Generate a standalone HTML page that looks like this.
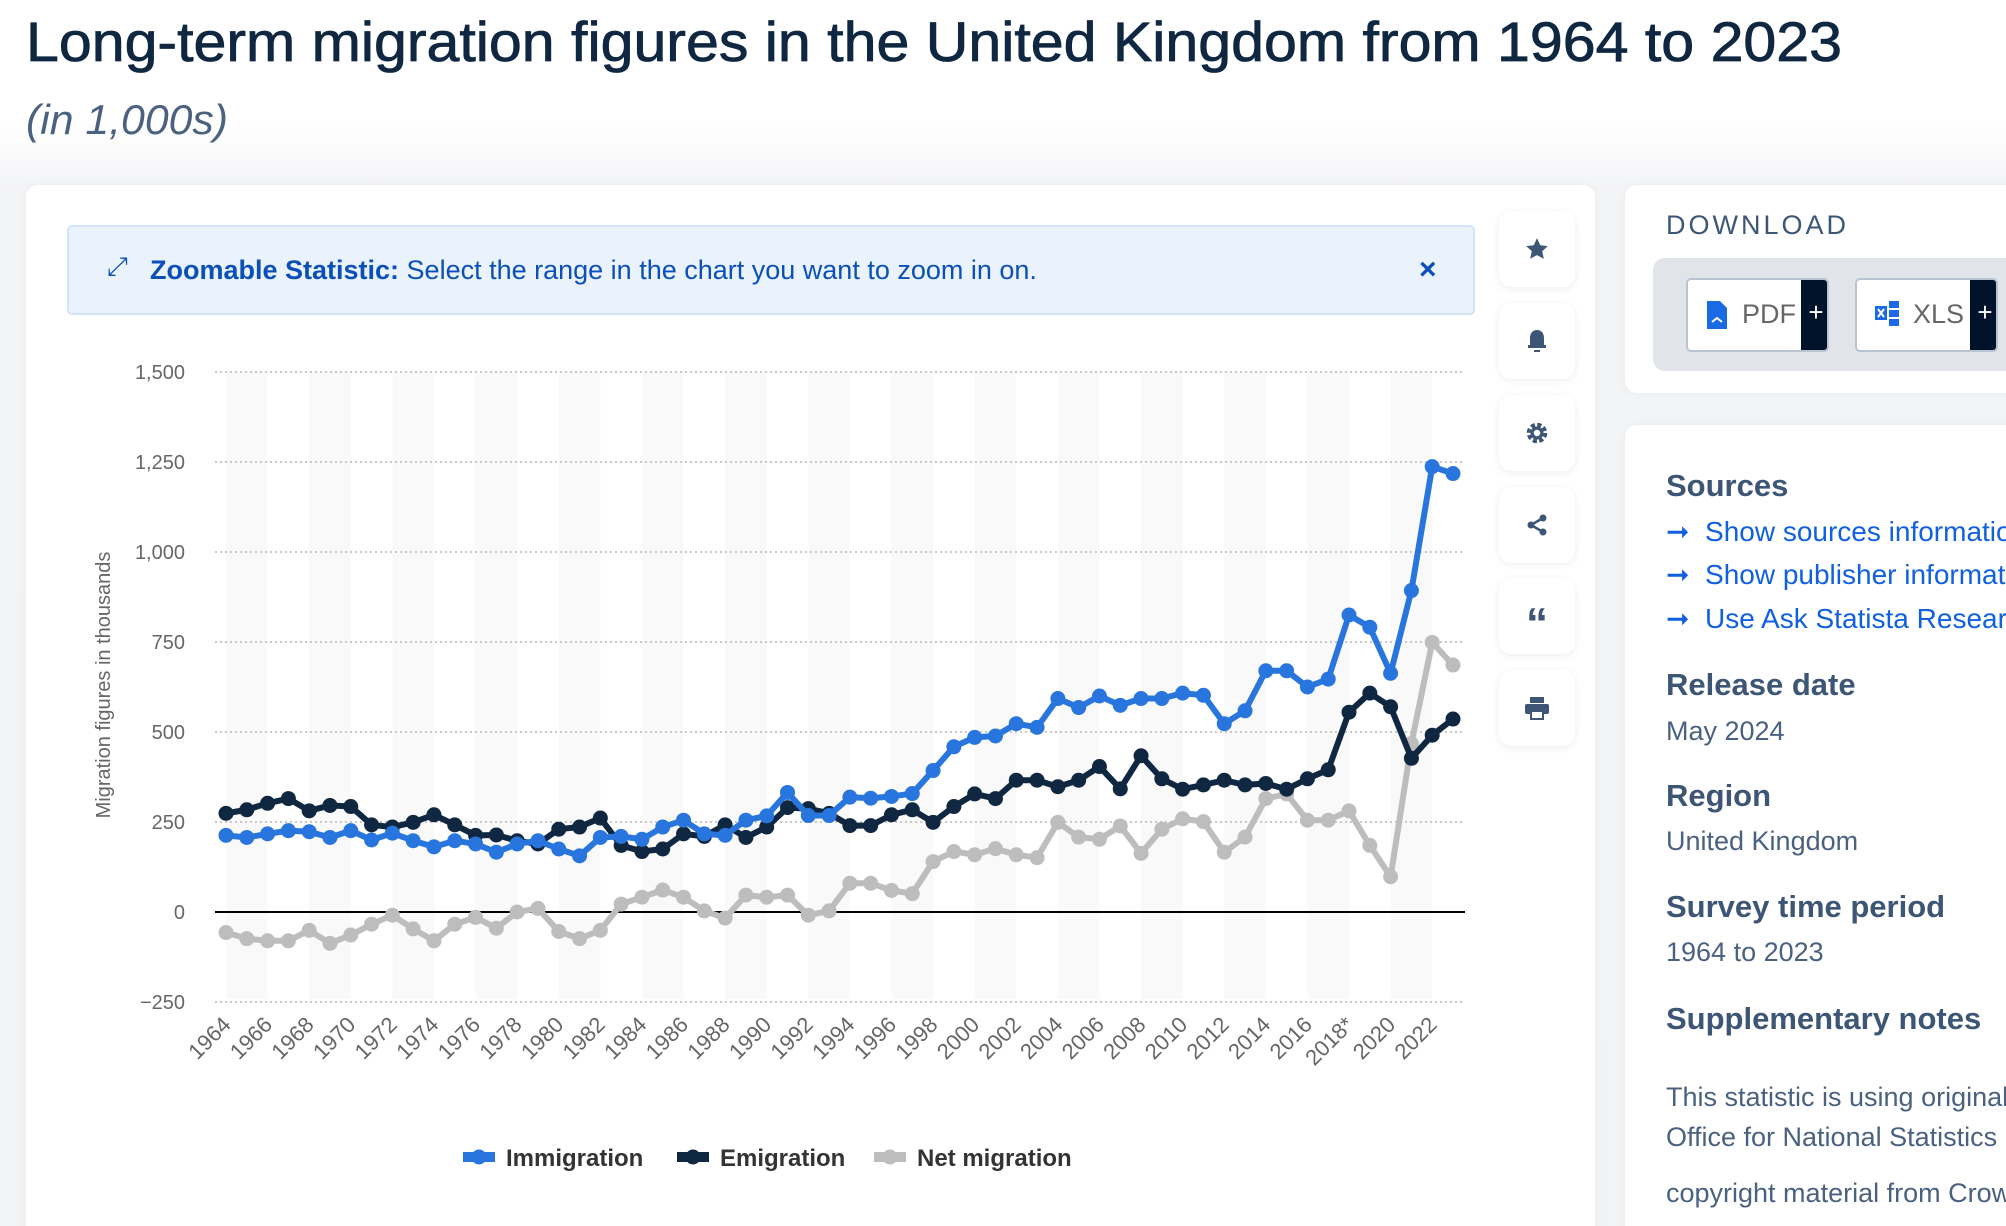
<!DOCTYPE html>
<html><head><meta charset="utf-8">
<style>
html,body{margin:0;padding:0;}
body{width:2006px;height:1226px;overflow:hidden;position:relative;font-family:"Liberation Sans",sans-serif;}
#wrap{position:absolute;left:0;top:0;width:2006px;height:1226px;overflow:hidden;background:linear-gradient(#ffffff 0,#ffffff 120px,#f3f4f6 190px,#f1f3f5 100%);}
.abs{position:absolute;}
.card{background:#fff;border-radius:12px;box-shadow:0 0 10px rgba(0,0,0,0.04);}
.ibox{position:absolute;left:1499px;width:76px;height:76px;background:#fff;border-radius:12px;box-shadow:0 2px 8px rgba(0,0,0,0.07);display:flex;align-items:center;justify-content:center;}
.h{position:absolute;left:1666px;font-weight:bold;font-size:31px;color:#3d5676;white-space:nowrap;}
.v{position:absolute;left:1666px;font-size:27px;color:#4a6180;white-space:nowrap;}
.lnk{position:absolute;left:1666px;font-size:28px;color:#1060e0;white-space:nowrap;}
</style></head>
<body>
<div id="wrap">
<svg class="abs" style="left:0;top:0" width="1900" height="160">
<text x="26" y="61" font-family="Liberation Sans, sans-serif" font-size="56" fill="#0f2740" stroke="#0f2740" stroke-width="0.8" textLength="1816" lengthAdjust="spacingAndGlyphs">Long-term migration figures in the United Kingdom from 1964 to 2023</text>
<text x="26" y="134" font-family="Liberation Sans, sans-serif" font-size="42" font-style="italic" fill="#4a6180" textLength="202" lengthAdjust="spacingAndGlyphs">(in 1,000s)</text>
</svg>

<div class="abs card" style="left:26px;top:185px;width:1569px;height:1080px"></div>

<div class="abs" style="left:67px;top:225px;width:1408px;height:90px;background:#eaf2fc;border:2px solid #d3e3f8;border-radius:5px;box-sizing:border-box">
  <span class="abs" style="left:38px;top:24px;font-size:26px;color:#0b4fb8">⤢</span>
  <span class="abs" style="left:81px;top:28px;font-size:27px;color:#0b4fb8;white-space:nowrap"><b>Zoomable Statistic:</b> Select the range in the chart you want to zoom in on.</span>
  <span class="abs" style="left:1350px;top:26px;font-size:30px;font-weight:bold;color:#0b4fb8">×</span>
</div>

<div class="ibox" style="top:211px"><svg width="26" height="26" viewBox="0 0 24 24"><path d="M12 2l3 6.5 7 .8-5.2 4.8 1.5 7L12 17.6 5.7 21l1.5-7L2 9.3l7-.8z" fill="#3d5676"/></svg></div>
<div class="ibox" style="top:303px"><svg width="24" height="26" viewBox="0 0 24 26"><path d="M12 2c-5 0-7 4-7 8v7H3v3h18v-3h-2v-7c0-4-2-8-7-8z" fill="#3d5676"/><rect x="9" y="22" width="6" height="2" fill="#3d5676"/></svg></div>
<div class="ibox" style="top:395px"><svg width="26" height="26" viewBox="0 0 24 24"><circle cx="12" cy="12" r="7" fill="none" stroke="#3d5676" stroke-width="5" stroke-dasharray="3.5 2"/><circle cx="12" cy="12" r="6" fill="#3d5676"/><circle cx="12" cy="12" r="3" fill="#fff"/></svg></div>
<div class="ibox" style="top:487px"><svg width="24" height="24" viewBox="0 0 24 24"><circle cx="18" cy="5" r="3.5" fill="#3d5676"/><circle cx="6" cy="12" r="3.5" fill="#3d5676"/><circle cx="18" cy="19" r="3.5" fill="#3d5676"/><path d="M18 5L6 12l12 7" stroke="#3d5676" stroke-width="2.5" fill="none"/></svg></div>
<div class="ibox" style="top:578px"><span style="font-size:44px;font-weight:bold;color:#3d5676;line-height:40px;margin-top:16px">“</span></div>
<div class="ibox" style="top:670px"><svg width="26" height="24" viewBox="0 0 26 24"><rect x="6" y="1" width="14" height="6" fill="#3d5676"/><rect x="1" y="8" width="24" height="10" rx="2" fill="#3d5676"/><rect x="7" y="15" width="12" height="8" fill="#fff" stroke="#3d5676" stroke-width="2"/></svg></div>

<div class="abs card" style="left:1625px;top:185px;width:400px;height:208px"></div>
<div class="abs" style="left:1666px;top:210px;font-size:27px;letter-spacing:3px;color:#3d5676">DOWNLOAD</div>
<div class="abs" style="left:1653px;top:258px;width:380px;height:113px;background:#e1e4e8;border-radius:12px"></div>
<div class="abs" style="left:1686px;top:278px;width:143px;height:74px;background:#fff;border:2px solid #b9c4d2;border-radius:5px;box-sizing:border-box;overflow:hidden">
  <svg class="abs" style="left:18px;top:20px" width="22" height="30"><path d="M1 1h13l7 7v21H1z" fill="#1a6ae6"/><path d="M6 22l5-4 5 4" stroke="#fff" stroke-width="2" fill="none"/></svg>
  <span class="abs" style="left:54px;top:19px;font-size:27px;color:#666">PDF</span>
  <div class="abs" style="left:113px;top:0;width:30px;height:74px;background:#00132a;color:#fff;font-size:26px;text-align:center;line-height:64px">+</div>
</div>
<div class="abs" style="left:1855px;top:278px;width:143px;height:74px;background:#fff;border:2px solid #b9c4d2;border-radius:5px;box-sizing:border-box;overflow:hidden">
  <svg class="abs" style="left:18px;top:20px" width="26" height="28"><rect x="0" y="6" width="12" height="14" fill="#1a6ae6"/><rect x="14" y="1" width="10" height="7" fill="#1a6ae6"/><rect x="14" y="10" width="10" height="7" fill="#1a6ae6"/><rect x="14" y="19" width="10" height="7" fill="#1a6ae6"/><path d="M3 9l6 8M9 9l-6 8" stroke="#fff" stroke-width="2"/></svg>
  <span class="abs" style="left:56px;top:19px;font-size:27px;color:#666">XLS</span>
  <div class="abs" style="left:113px;top:0;width:30px;height:74px;background:#00132a;color:#fff;font-size:26px;text-align:center;line-height:64px">+</div>
</div>

<div class="abs card" style="left:1625px;top:425px;width:400px;height:830px"></div>
<div class="h" style="top:468px">Sources</div>
<div class="lnk" style="top:515px">➞&nbsp; Show sources information</div>
<div class="lnk" style="top:558px">➞&nbsp; Show publisher information</div>
<div class="lnk" style="top:602px">➞&nbsp; Use Ask Statista Research Service</div>
<div class="h" style="top:667px">Release date</div>
<div class="v" style="top:716px">May 2024</div>
<div class="h" style="top:778px">Region</div>
<div class="v" style="top:826px">United Kingdom</div>
<div class="h" style="top:889px">Survey time period</div>
<div class="v" style="top:937px">1964 to 2023</div>
<div class="h" style="top:1001px">Supplementary notes</div>
<div class="v" style="top:1082px">This statistic is using original data from the</div>
<div class="v" style="top:1122px">Office for National Statistics (ONS) UK</div>
<div class="v" style="top:1178px">copyright material from Crown</div>

<svg id="chart" class="abs" style="left:0;top:0" width="1600" height="1226"></svg>
</div>

<script>
const years = [];
for (let y = 1964; y <= 2023; y++) years.push(y);
const immigration = [213,207,217,226,223,207,226,200,219,198,181,198,189,166,189,198,175,156,207,210,202,236,255,217,213,255,267,
 332,268,268,319,316,321,329,393,459,485,489,523,513,593,568,600,574,593,593,608,602,523,559,670,670,625,647,825,791,663,893,1237,1218];
const emigration = [274,284,302,315,281,296,293,242,236,249,270,242,213,214,198,189,230,236,261,185,168,175,217,210,242,207,236,
 290,287,274,240,240,270,284,249,293,328,315,366,366,348,366,404,342,434,370,341,353,366,353,357,341,370,395,555,608,570,427,491,536];
const netMigration = [-57,-74,-80,-80,-51,-87,-64,-34,-9,-47,-80,-34,-15,-45,0,10,-54,-74,-51,22,41,61,41,3,-17,47,41,
 47,-9,3,80,80,60,51,140,168,159,176,159,151,249,208,202,239,163,230,259,251,166,208,315,328,255,255,281,185,98,468,749,686];
const yTicks = [-250,0,250,500,750,1000,1250,1500];
const yTickLabels = ["−250","0","250","500","750","1,000","1,250","1,500"];
const xLabelYears = [1964,1966,1968,1970,1972,1974,1976,1978,1980,1982,1984,1986,1988,1990,1992,1994,1996,1998,2000,2002,2004,2006,2008,2010,2012,2014,2016,2018,2020,2022];
const xLabelTexts = ["1964","1966","1968","1970","1972","1974","1976","1978","1980","1982","1984","1986","1988","1990","1992","1994","1996","1998","2000","2002","2004","2006","2008","2010","2012","2014","2016","2018*","2020","2022"];

const NS = "http://www.w3.org/2000/svg";
const svg = document.getElementById('chart');
const X0 = 226, X1 = 1453, PL = 215, PR = 1465;
function xs(year){ return X0 + (year - 1964) * (X1 - X0) / 59; }
function ys(v){ return 912 - v * 0.36; }
function mk(tag, attrs, parent){ const e = document.createElementNS(NS, tag); for (const k in attrs) e.setAttribute(k, attrs[k]); (parent||svg).appendChild(e); return e; }

for (let y = 1964; y < 2024; y += 4) {
  const x1 = xs(y), x2 = Math.min(xs(y + 2), PR);
  const b = mk('rect', {x:x1, y:ys(1500), width:x2-x1, height:ys(-250)-ys(1500)-3, fill:'#f9f9f9'});
  
  
}
yTicks.forEach((v, i) => {
  if (v !== 0) {
    const g = mk('line', {x1:PL, x2:PR, y1:ys(v), y2:ys(v), stroke:'#c8c8c8', 'stroke-width':2, 'stroke-dasharray':'2 3'});
    
    
  }
  const t = mk('text', {x:185, y:ys(v)+7, 'text-anchor':'end', 'font-size':20, fill:'#666', 'font-family':'Liberation Sans, sans-serif'});
  t.textContent = yTickLabels[i];
  
  
});
const zl = mk('line', {x1:PL, x2:PR, y1:ys(0), y2:ys(0), stroke:'#000', 'stroke-width':2});


const at = mk('text', {x:0, y:0, transform:'translate(110,685) rotate(-90)', 'text-anchor':'middle', 'font-size':20, fill:'#666', 'font-family':'Liberation Sans, sans-serif'});
at.textContent = 'Migration figures in thousands';


xLabelYears.forEach((yr, i) => {
  const x = xs(yr) + 6, y = 1026;
  const t = mk('text', {x:x, y:y, transform:`rotate(-45 ${x} ${y})`, 'text-anchor':'end', 'font-size':22, fill:'#666', 'font-family':'Liberation Sans, sans-serif'});
  t.textContent = xLabelTexts[i];
  
  
});
const series = [
  {name:'net-migration', data:netMigration, color:'#bdbdbd'},
  {name:'emigration', data:emigration, color:'#0f2740'},
  {name:'immigration', data:immigration, color:'#2876dd'}
];
series.forEach(s => {
  const g = mk('g', {});
  
  
  const pts = s.data.map((v, i) => xs(years[i]) + ',' + ys(v)).join(' ');
  const pl = mk('polyline', {points:pts, fill:'none', stroke:s.color, 'stroke-width':6, 'stroke-linejoin':'round'}, g);
  
  
  s.data.forEach((v, i) => {
    const c = mk('circle', {cx:xs(years[i]), cy:ys(v), r:7.5, fill:s.color}, g);
    
    
  });
});
const legend = [
  {label:'Immigration', color:'#2876dd', x:463},
  {label:'Emigration', color:'#0f2740', x:677},
  {label:'Net migration', color:'#bdbdbd', x:874}
];
legend.forEach(l => {
  const g = mk('g', {});
  
  
  mk('rect', {x:l.x, y:1152, width:32, height:10, fill:l.color}, g);
  mk('circle', {cx:l.x+16, cy:1157, r:7.5, fill:l.color}, g);
  const t = mk('text', {x:l.x+43, y:1166, 'font-size':24, 'font-weight':'bold', fill:'#333', 'font-family':'Liberation Sans, sans-serif'}, g);
  t.textContent = l.label;
});
</script>
</body></html>
